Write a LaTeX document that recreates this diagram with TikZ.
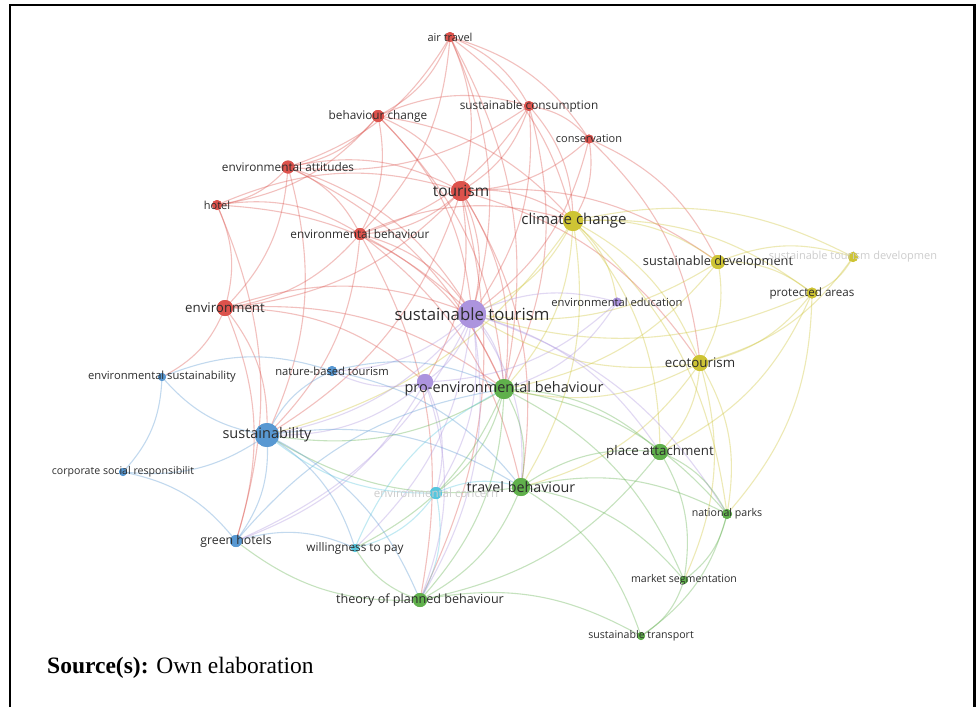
\documentclass[tikz,border=0pt]{standalone}
\usepackage{fontspec}
\setmainfont{Liberation Serif}
\newfontfamily\osans{Open Sans}
\definecolor{cR}{RGB}{220,82,76}
\definecolor{cY}{RGB}{206,196,52}
\definecolor{cP}{RGB}{172,148,222}
\definecolor{cG}{RGB}{96,176,76}
\definecolor{cB}{RGB}{88,152,210}
\definecolor{cC}{RGB}{86,198,222}
\definecolor{txt}{RGB}{45,45,45}
\definecolor{fade}{RGB}{205,205,205}
\tikzset{
  dot/.style={circle, inner sep=0pt, minimum size=#1, draw=none},
  lbl/.style={text=txt, font=\osans\fontsize{#1}{#1}\selectfont, inner sep=0pt},
  ed/.style={draw=#1, line width=1.1pt, draw opacity=0.36},
  frame/.style={line width=2.6pt, draw=black}
}
\begin{document}
\begin{tikzpicture}[x=1pt,y=-1pt]
\useasboundingbox (0,0) rectangle (976,707);
\fill[white] (0,0) rectangle (976,707);
% ---------- dots ----------
\node[dot=10, fill=cR] (air) at (450,37) {};
\node[dot=12, fill=cR] (bc) at (378,116) {};
\node[dot=10, fill=cR] (sc) at (529,106) {};
\node[dot=9,  fill=cR] (cons) at (589,139) {};
\node[dot=13, fill=cR] (ea) at (288,167) {};
\node[dot=20, fill=cR] (tour) at (461,191) {};
\node[dot=10, fill=cR] (hotel) at (217,205) {};
\node[dot=12, fill=cR] (eb) at (360,234) {};
\node[dot=16, fill=cR] (envt) at (225,308) {};
\node[dot=20, fill=cY] (cc) at (573,221) {};
\node[dot=14, fill=cY] (sd) at (718,262) {};
\node[dot=10, fill=cY] (std) at (853,257) {};
\node[dot=11, fill=cY] (prot) at (812,293) {};
\node[dot=16, fill=cY] (eco) at (700,363) {};
\node[dot=9,  fill=cP] (edu) at (617,302) {};
\node[dot=28, fill=cP] (st) at (472,314) {};
\node[dot=16, fill=cP] (ppro) at (425,382) {};
\node[dot=20, fill=cG] (gpro) at (504,389) {};
\node[dot=16, fill=cG] (plat) at (660,452) {};
\node[dot=18, fill=cG] (tb) at (521,487) {};
\node[dot=10, fill=cG] (np) at (727,514) {};
\node[dot=8,  fill=cG] (ms) at (684,580) {};
\node[dot=14, fill=cG] (tpb) at (420,600) {};
\node[dot=8,  fill=cG] (strans) at (641,636) {};
\node[dot=8,  fill=cB] (es) at (162,377) {};
\node[dot=10, fill=cB] (nbt) at (332,371) {};
\node[dot=24, fill=cB] (sus) at (267,435) {};
\node[dot=8,  fill=cB] (csr) at (123,472) {};
\node[dot=12, fill=cB] (gh) at (236,541) {};
\node[dot=12, fill=cC] (ec) at (436,493) {};
\node[dot=8,  fill=cC] (wtp) at (355,548) {};
% ---------- edges ----------
\foreach \a/\b/\c in {
 air/bc/cR, air/ea/cR, air/tour/cR, air/sc/cR, air/cons/cR, air/eb/cR, air/st/cR, air/cc/cR, air/gpro/cR,
 bc/ea/cR, bc/tour/cR, bc/eb/cR, bc/sc/cR, bc/st/cR, bc/cc/cR, bc/gpro/cR, bc/hotel/cR,
 sc/tour/cR, sc/cons/cR, sc/eb/cR, sc/st/cR, sc/cc/cR, sc/gpro/cR, sc/ea/cR,
 cons/tour/cR, cons/cc/cR, cons/st/cR, cons/eco/cR, cons/sd/cR,
 ea/hotel/cR, ea/eb/cR, ea/tour/cR, ea/envt/cR, ea/st/cR, ea/gpro/cR, ea/sus/cR,
 hotel/eb/cR, hotel/tour/cR, hotel/envt/cR, hotel/st/cR, hotel/gh/cR,
 tour/eb/cR, tour/cc/cR, tour/st/cR, tour/envt/cR, tour/gpro/cR, tour/sus/cR, tour/sd/cR, tour/eco/cR, tour/tb/cR, tour/ppro/cR, tour/tpb/cR,
 eb/envt/cR, eb/st/cR, eb/gpro/cR, eb/cc/cR, eb/sus/cR, eb/tb/cR, eb/tpb/cR,
 envt/st/cR, envt/sus/cR, envt/es/cR, envt/ppro/cR, envt/gpro/cR, envt/gh/cR,
 cc/st/cY, cc/sd/cY, cc/eco/cY, cc/gpro/cY, cc/tb/cY, cc/plat/cY, cc/prot/cY, cc/std/cY, cc/sus/cY, cc/edu/cY, cc/np/cY,
 sd/std/cY, sd/prot/cY, sd/eco/cY, sd/st/cY, sd/gpro/cY,
 std/prot/cY, std/eco/cY,
 prot/eco/cY, prot/np/cY, prot/st/cY, prot/plat/cY,
 eco/st/cY, eco/plat/cY, eco/np/cY, eco/gpro/cY, eco/tb/cY, eco/ms/cY,
 st/edu/cP, st/ppro/cP, st/gpro/cP, st/sus/cP, st/tb/cP, st/plat/cP, st/tpb/cP, st/nbt/cP, st/ec/cP, st/gh/cP, st/wtp/cP, st/np/cP,
 edu/gpro/cP, edu/ppro/cP,
 ppro/sus/cP, ppro/nbt/cP, ppro/gh/cP, ppro/ec/cP, ppro/tpb/cP,
 gpro/tb/cG, gpro/plat/cG, gpro/tpb/cG, gpro/np/cG, gpro/sus/cG, gpro/ec/cG, gpro/wtp/cG, gpro/ms/cG,
 tb/plat/cG, tb/tpb/cG, tb/ms/cG, tb/strans/cG, tb/np/cG, tb/sus/cG,
 plat/np/cG, plat/ms/cG, plat/tpb/cG,
 np/ms/cG, np/strans/cG, ms/strans/cG,
 tpb/strans/cG, tpb/wtp/cG, tpb/gh/cG,
 sus/es/cB, sus/csr/cB, sus/gh/cB, sus/nbt/cB, sus/wtp/cB, sus/tb/cB, sus/tpb/cB,
 es/csr/cB, es/nbt/cB, csr/gh/cB, gh/wtp/cB, gh/gpro/cB, nbt/gpro/cB, nbt/tb/cB,
 ec/wtp/cC, ec/tpb/cC, ec/tb/cC, ec/sus/cC, wtp/gpro/cC}
 \draw[ed=\c] (\a.center) to[bend left=20] (\b.center);
% ---------- dots over edges ----------
\foreach \n/\c/\r in {air/cR/5,bc/cR/6,sc/cR/5,cons/cR/4.5,ea/cR/6.5,tour/cR/10,hotel/cR/5,eb/cR/6,envt/cR/8,cc/cY/10,sd/cY/7,std/cY/5,prot/cY/5.5,eco/cY/8,edu/cP/4.5,st/cP/14,ppro/cP/8,gpro/cG/10,plat/cG/8,tb/cG/9,np/cG/5,ms/cG/4,tpb/cG/7,strans/cG/4,es/cB/4,nbt/cB/5,sus/cB/12,csr/cB/4,gh/cB/6,ec/cC/6,wtp/cC/4}
 \fill[\c] (\n.center) circle[radius=\r];
% ---------- labels ----------
\node[lbl=11] (air-l) at (air) {air travel};
\node[lbl=11.8] (bc-l) at (bc) {behaviour change};
\node[lbl=11.8] (sc-l) at (sc) {sustainable consumption};
\node[lbl=11] (cons-l) at (cons) {conservation};
\node[lbl=11.8] (ea-l) at (ea) {environmental attitudes};
\node[lbl=15.5] (tour-l) at (tour) {tourism};
\node[lbl=11] (hotel-l) at (hotel) {hotel};
\node[lbl=11.8] (eb-l) at (eb) {environmental behaviour};
\node[lbl=13.3] (envt-l) at (envt) {environment};
\node[lbl=15] (cc-l) at ([xshift=1pt]cc) {climate change};
\node[lbl=12.8] (sd-l) at (sd) {sustainable development};
\node[lbl=11, text=fade] (std-l) at (std) {sustainable tourism developmen};
\node[lbl=11.6] (prot-l) at (prot) {protected areas};
\node[lbl=13.3] (eco-l) at (eco) {ecotourism};
\node[lbl=11.2] (edu-l) at (edu) {environmental education};
\node[lbl=16.8] (st-l) at (st) {sustainable tourism};
\node[lbl=14.5] (gpro-l) at (gpro) {pro-environmental behaviour};
\node[lbl=13.3] (plat-l) at (plat) {place attachment};
\node[lbl=14.3] (tb-l) at (tb) {travel behaviour};
\node[lbl=10.6] (np-l) at (np) {national parks};
\node[lbl=10.6] (ms-l) at (ms) {market segmentation};
\node[lbl=12.6] (tpb-l) at (tpb) {theory of planned behaviour};
\node[lbl=10.6] (strans-l) at (strans) {sustainable transport};
\node[lbl=11.2] (es-l) at (es) {environmental sustainability};
\node[lbl=11.2] (nbt-l) at (nbt) {nature-based tourism};
\node[lbl=14.5] (sus-l) at (sus) {sustainability};
\node[lbl=10.6] (csr-l) at (csr) {corporate social responsibilit};
\node[lbl=12.3] (gh-l) at (gh) {green hotels};
\node[lbl=11.5, text=fade] (ec-l) at (ec) {environmental concern};
\node[lbl=11.8] (wtp-l) at (wtp) {willingness to pay};
% ---------- caption ----------
\node[anchor=base west, inner sep=0pt, font=\fontsize{23.5}{26}\selectfont] (src) at (47,673) {\textbf{Source(s):} Own elaboration};
% ---------- frame ----------
\draw[frame] (10,707) -- (10,5) -- (974.5,5) -- (974.5,707);
\end{tikzpicture}
\end{document}
